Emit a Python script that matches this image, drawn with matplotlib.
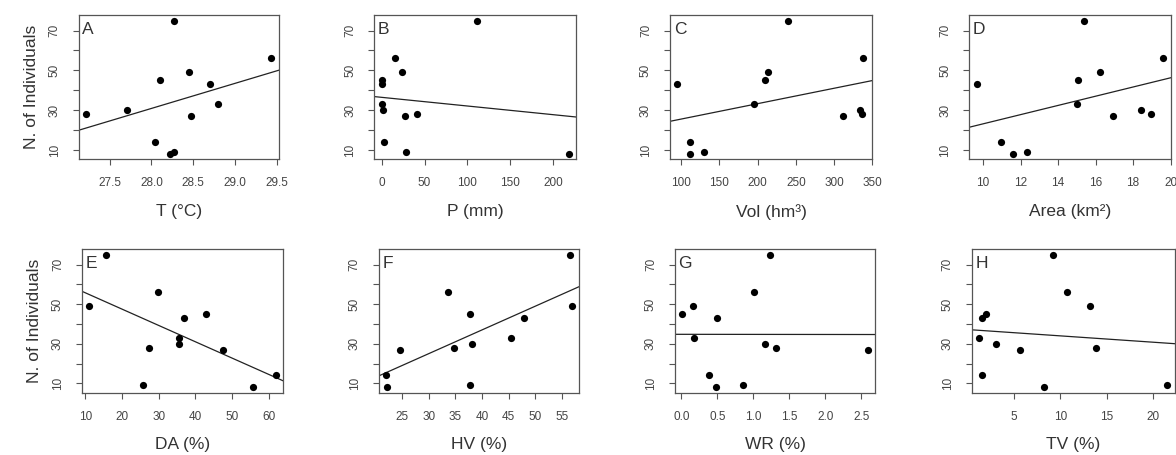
import numpy as np
import matplotlib
matplotlib.use("Agg")
import matplotlib.pyplot as plt

plt.rcParams['font.family'] = ['Liberation Sans', 'DejaVu Sans']

# Number of individuals (same response for all panels)
n_individuals = [75, 56, 49, 45, 43, 33, 30, 28, 27, 14, 9, 8]

# Predictors (same order as n_individuals)
temp_c   = [28.27, 29.43, 28.45, 28.10, 28.70, 28.79, 27.71, 27.22, 28.47, 28.04, 28.27, 28.22]
precip   = [111, 15, 24, 0, 0, 0, 2, 41, 27, 3, 28, 218]
volume   = [240, 338, 213, 210, 95, 195, 334, 337, 312, 112, 130, 112]
area_km2 = [15.38, 19.61, 16.23, 15.06, 9.66, 14.99, 18.44, 18.97, 16.94, 10.98, 12.33, 11.62]
da_pct   = [15.7, 29.9, 11.1, 43.0, 36.9, 35.5, 35.5, 27.3, 47.6, 61.9, 25.7, 55.7]
hv_pct   = [56.5, 33.6, 56.9, 37.75, 47.9, 45.4, 38.2, 34.7, 24.7, 22.0, 37.75, 22.2]
wr_pct   = [1.225, 1.005, 0.16, 0.014, 0.49, 0.18, 1.157, 1.31, 2.59, 0.38, 0.85, 0.48]
tv_pct   = [9.19, 10.67, 13.23, 1.97, 1.57, 1.28, 3.12, 13.88, 5.69, 1.57, 21.46, 8.25]

panel_letters = ['A', 'B', 'C', 'D', 'E', 'F', 'G', 'H']
x_labels = ['T (°C)', 'P (mm)', 'Vol (hm³)', 'Area (km²)',
            'DA (%)', 'HV (%)', 'WR (%)', 'TV (%)']
x_ticks = [
    [27.5, 28.0, 28.5, 29.0, 29.5],
    [0, 50, 100, 150, 200],
    [100, 150, 200, 250, 300, 350],
    [10, 12, 14, 16, 18, 20],
    [10, 20, 30, 40, 50, 60],
    [25, 30, 35, 40, 45, 50, 55],
    [0.0, 0.5, 1.0, 1.5, 2.0, 2.5],
    [5, 10, 15, 20],
]
x_tick_fmt = ['{:.1f}', '{:g}', '{:g}', '{:g}', '{:g}', '{:g}', '{:.1f}', '{:g}']
y_ticks = [10, 20, 30, 40, 50, 60, 70]
y_ticklabels = ['10', '', '30', '', '50', '', '70']
predictors = [temp_c, precip, volume, area_km2, da_pct, hv_pct, wr_pct, tv_pct]

# Layout (pixels)
W, H = 1176, 455
boxes = [
    (78.7, 278.7, 15.3, 159.3),
    (374.3, 576.0, 15.3, 159.3),
    (670.0, 872.3, 15.3, 159.3),
    (969.3, 1170.7, 15.3, 159.3),
    (82.0, 283.0, 249.3, 392.7),
    (378.7, 579.3, 249.3, 392.7),
    (675.0, 875.3, 249.3, 392.7),
    (971.7, 1174.5, 249.3, 392.7),
]

fig = plt.figure(figsize=(W / 100, H / 100), dpi=100)
fig.patch.set_facecolor('white')

frame_col = '#555555'
text_col = '#333333'

y = np.array(n_individuals, dtype=float)
ypad = 0.04 * (y.max() - y.min())

for i, (x_raw, (l, r, t, b)) in enumerate(zip(predictors, boxes)):
    ax = fig.add_axes([l / W, 1 - b / H, (r - l) / W, (b - t) / H])
    x = np.array(x_raw, dtype=float)
    xpad = 0.04 * (x.max() - x.min())
    ax.set_xlim(x.min() - xpad, x.max() + xpad)
    ax.set_ylim(y.min() - ypad, y.max() + ypad)

    ax.scatter(x, y, s=27, color='black', zorder=3, linewidths=0)
    slope, intercept = np.polyfit(x, y, 1)
    ax.axline((0, intercept), slope=slope, color='#222222', lw=0.9, zorder=2)

    ax.set_xticks(x_ticks[i])
    ax.set_xticklabels([x_tick_fmt[i].format(v) for v in x_ticks[i]])
    ax.set_yticks(y_ticks)
    ax.set_yticklabels(y_ticklabels, rotation=90, va='center')
    ax.tick_params(axis='both', direction='out', length=4.5, width=0.8,
                   color=frame_col, labelsize=8.5, labelcolor='#444444', pad=8.5)
    for sp in ax.spines.values():
        sp.set_color(frame_col)
        sp.set_linewidth(0.9)

    ax.set_xlabel(x_labels[i], fontsize=12.5, color=text_col, labelpad=10.5)
    if i % 4 == 0:
        ax.set_ylabel('N. of Individuals', fontsize=12.5, color=text_col, labelpad=7)

    ax.text(0.018, 0.95, panel_letters[i], transform=ax.transAxes,
            ha='left', va='top', fontsize=12.5, color=text_col)

fig.savefig('out.png', dpi=100, facecolor='white')
